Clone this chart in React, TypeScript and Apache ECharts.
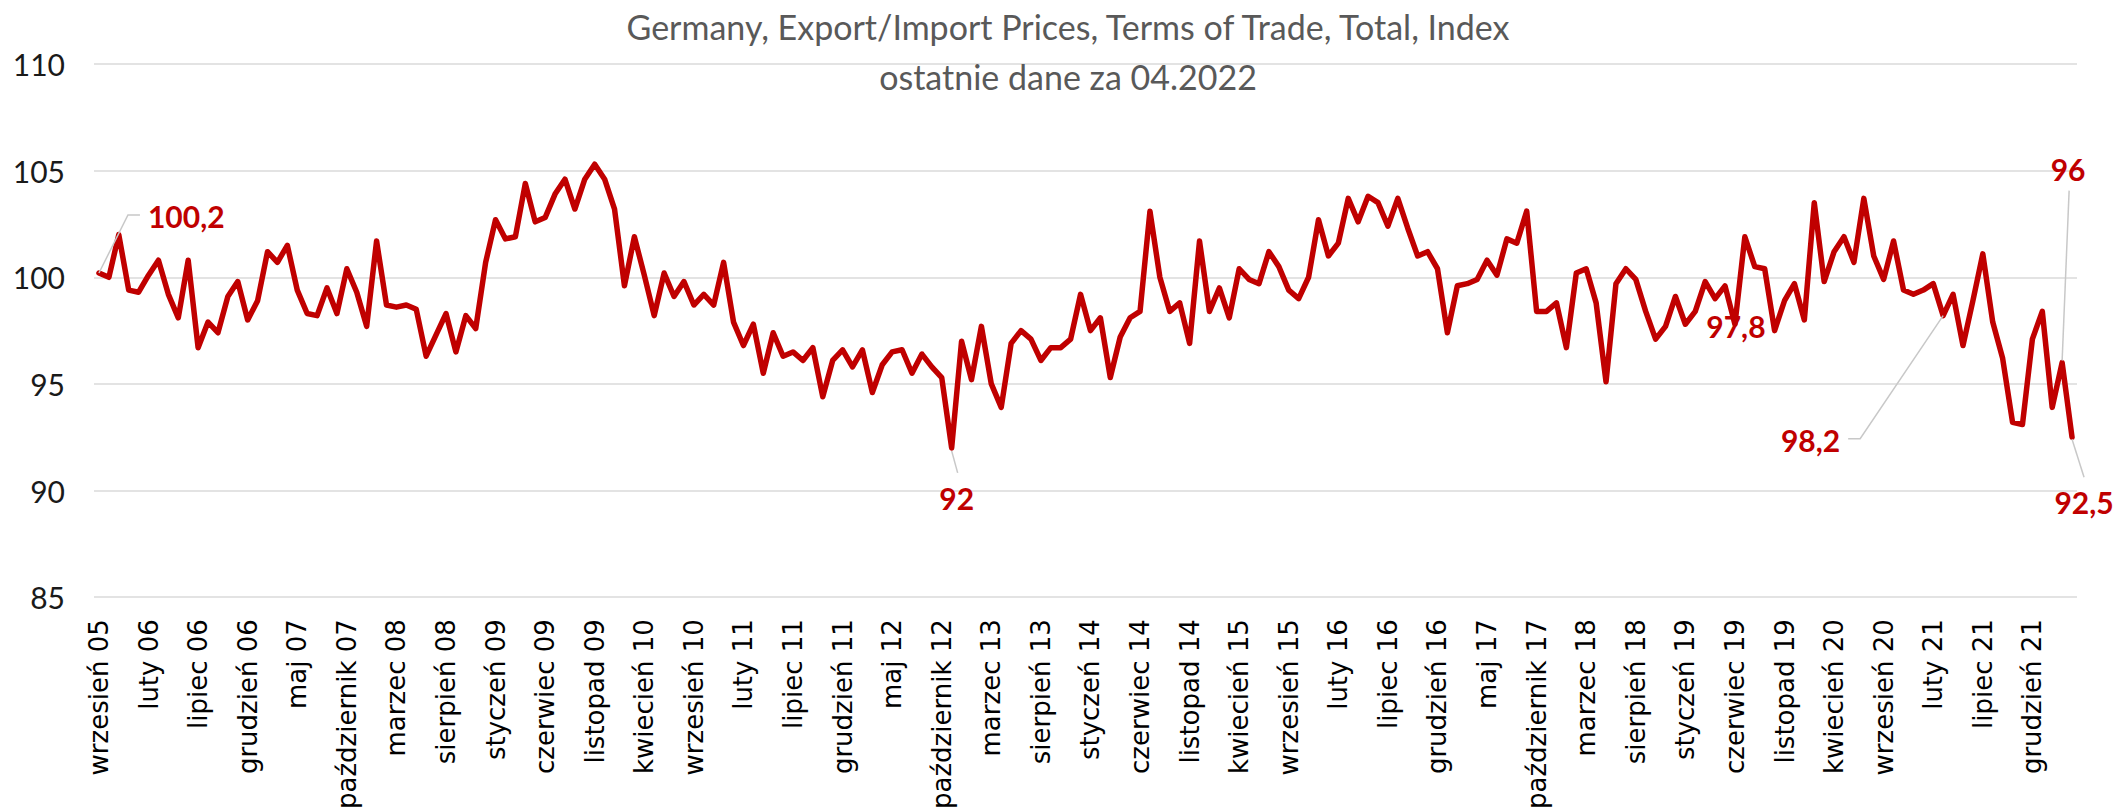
import React, { useEffect, useRef } from 'react';
import * as echarts from 'echarts';

const TITLE = 'Germany, Export/Import Prices, Terms of Trade, Total, Index';
const SUBTITLE = 'ostatnie dane za 04.2022';

const MONTHS = [
  'styczeń', 'luty', 'marzec', 'kwiecień', 'maj', 'czerwiec',
  'lipiec', 'sierpień', 'wrzesień', 'październik', 'listopad', 'grudzień',
];
const START_YEAR = 2005;
const START_MONTH = 8; // wrzesień (0-based)

// Sep 2005 – Dec 2009
const vals2005to2009 = [
  100.2, 100.0, 102.0, 99.4,
  99.3, 100.1, 100.8, 99.2, 98.1, 100.8, 96.7, 97.9, 97.4, 99.1, 99.8, 98.0,
  98.9, 101.2, 100.7, 101.5, 99.4, 98.3, 98.2, 99.5, 98.3, 100.4, 99.3, 97.7,
  101.7, 98.7, 98.6, 98.7, 98.5, 96.3, 97.3, 98.3, 96.5, 98.2, 97.6, 100.7,
  102.7, 101.8, 101.9, 104.4, 102.6, 102.8, 103.9, 104.6, 103.2, 104.6, 105.3, 104.6,
];
// 2010 – 2013
const vals2010to2013 = [
  103.2, 99.6, 101.9, 100.1, 98.2, 100.2, 99.1, 99.8, 98.7, 99.2, 98.7, 100.7,
  97.9, 96.8, 97.8, 95.5, 97.4, 96.3, 96.5, 96.1, 96.7, 94.4, 96.1, 96.6,
  95.8, 96.6, 94.6, 95.9, 96.5, 96.6, 95.5, 96.4, 95.8, 95.3, 92.0, 97.0,
  95.2, 97.7, 95.0, 93.9, 96.9, 97.5, 97.1, 96.1, 96.7, 96.7, 97.1, 99.2,
];
// 2014 – 2017
const vals2014to2017 = [
  97.5, 98.1, 95.3, 97.2, 98.1, 98.4, 103.1, 100.0, 98.4, 98.8, 96.9, 101.7,
  98.4, 99.5, 98.1, 100.4, 99.9, 99.7, 101.2, 100.5, 99.4, 99.0, 100.0, 102.7,
  101.0, 101.6, 103.7, 102.6, 103.8, 103.5, 102.4, 103.7, 102.3, 101.0, 101.2, 100.4,
  97.4, 99.6, 99.7, 99.9, 100.8, 100.1, 101.8, 101.6, 103.1, 98.4, 98.4, 98.8,
];
// 2018 – Apr 2022
const vals2018to2022 = [
  96.7, 100.2, 100.4, 98.8, 95.1, 99.7, 100.4, 99.9, 98.4, 97.1, 97.7, 99.1,
  97.8, 98.4, 99.8, 99.0, 99.6, 97.8, 101.9, 100.5, 100.4, 97.5, 98.9, 99.7,
  98.0, 103.5, 99.8, 101.2, 101.9, 100.7, 103.7, 101.0, 99.9, 101.7, 99.4, 99.2,
  99.4, 99.7, 98.2, 99.2, 96.8, 98.9, 101.1, 97.9, 96.2, 93.2, 93.1, 97.1,
  98.4, 93.9, 96.0, 92.5,
];

const values = [...vals2005to2009, ...vals2010to2013, ...vals2014to2017, ...vals2018to2022];

const categories = values.map((_, i) => {
  const m = START_MONTH + i;
  const yy = String((START_YEAR + Math.floor(m / 12)) % 100).padStart(2, '0');
  return MONTHS[m % 12] + ' ' + yy;
});

const Y_MIN = 85;
const Y_MAX = 110;
const Y_STEP = 5;

const LABELED_POINTS = [0, 86, 165, 186, 198, 199];

const fmt = (v: number) => (Number.isInteger(v) ? String(v) : v.toFixed(1).replace('.', ','));

// label placement relative to its point (pixels)
const ANNOT: Record<number, { dx: number; dy: number; align: string; leader: number[][] | null }> = {
  0: { dx: 49, dy: -57, align: 'left', leader: [[0, 0], [29, -58], [41, -58]] },
  86: { dx: 5, dy: 50, align: 'center', leader: [[0, 3], [6, 25]] },
  165: { dx: 1, dy: 2, align: 'center', leader: null },
  186: { dx: -103, dy: 124, align: 'right', leader: [[0, 0], [-83, 123], [-95, 123]] },
  198: { dx: 6, dy: -194, align: 'center', leader: [[0, -2], [7, -172]] },
  199: { dx: 12, dy: 65, align: 'center', leader: [[0, 2], [12, 40]] },
};

const RED = '#C00000';
const LABEL_FONT = 'Lato, "Liberation Sans", sans-serif';

export default function App() {
  const ref = useRef<HTMLDivElement>(null);

  useEffect(() => {
    document.body.style.margin = '0';
    if (!ref.current) return;
    const chart = echarts.init(ref.current, null, { renderer: 'svg' });
    chart.setOption({
      animation: false,
      backgroundColor: '#ffffff',
      grid: { left: 94, right: 39, top: 64, bottom: 208, containLabel: false },
      xAxis: {
        type: 'category',
        data: categories,
        boundaryGap: true,
        axisLine: { show: false },
        axisTick: { show: false },
        axisLabel: {
          interval: 4,
          rotate: 90,
          margin: 22,
          fontFamily: '"DejaVu Sans", sans-serif',
          fontSize: 26,
          color: '#000',
        },
        splitLine: { show: false },
      },
      yAxis: {
        type: 'value',
        min: Y_MIN,
        max: Y_MAX,
        interval: Y_STEP,
        axisLine: { show: false },
        axisTick: { show: false },
        axisLabel: {
          margin: 29,
          fontFamily: LABEL_FONT,
          fontSize: 30,
          color: '#1a1a1a',
        },
        splitLine: { lineStyle: { color: '#E3E3E3', width: 2 } },
      },
      series: [
        {
          type: 'line',
          data: values,
          symbol: 'none',
          lineStyle: { color: RED, width: 5.5, join: 'round', cap: 'round' },
          z: 5,
        },
      ],
    });

    const graphics: any[] = [
      {
        type: 'text',
        x: 1068,
        y: 26,
        z: 100,
        style: {
          text: TITLE,
          fill: '#595959',
          font: `34px ${LABEL_FONT}`,
          textAlign: 'center',
          textVerticalAlign: 'middle',
        },
      },
      {
        type: 'text',
        x: 1068,
        y: 76,
        z: 100,
        style: {
          text: SUBTITLE,
          fill: '#595959',
          font: `34px ${LABEL_FONT}`,
          textAlign: 'center',
          textVerticalAlign: 'middle',
        },
      },
    ];

    LABELED_POINTS.forEach((idx) => {
      const p = chart.convertToPixel({ xAxisIndex: 0, yAxisIndex: 0 }, [idx, values[idx]]) as number[];
      const a = ANNOT[idx];
      if (a.leader) {
        graphics.push({
          type: 'polyline',
          z: 90,
          shape: { points: a.leader.map(([lx, ly]) => [p[0] + lx, p[1] + ly]) },
          style: { stroke: '#C8C8C8', lineWidth: 1.5, fill: null },
        });
      }
      graphics.push({
        type: 'text',
        x: p[0] + a.dx,
        y: p[1] + a.dy,
        z: 100,
        style: {
          text: fmt(values[idx]),
          fill: RED,
          font: `bold 30px ${LABEL_FONT}`,
          textAlign: a.align,
          textVerticalAlign: 'middle',
        },
      });
    });

    chart.setOption({ graphic: graphics });

    return () => {
      chart.dispose();
    };
  }, []);

  return <div ref={ref} style={{ width: 2116, height: 812 }} />;
}
